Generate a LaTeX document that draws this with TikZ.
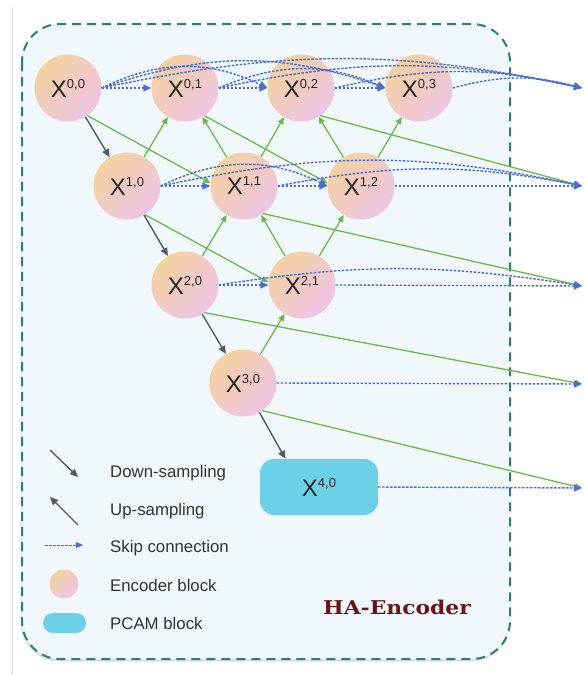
\documentclass[tikz,border=0pt]{standalone}
\usepackage{fontspec}
\usepackage{graphicx}
\setmainfont{Liberation Sans}
\newfontfamily\slabfont{DejaVu Serif}
\usetikzlibrary{arrows.meta,shadows,calc}
\definecolor{bgfill}{HTML}{F1F8FC}
\definecolor{framec}{HTML}{2B7D78}
\definecolor{peach}{HTML}{F4D1A0}
\definecolor{pinkc}{HTML}{EEC4E6}
\definecolor{skipblue}{HTML}{4A6ED0}
\definecolor{upgreen}{HTML}{6CBA45}
\definecolor{downgray}{HTML}{555A5F}
\definecolor{pcamc}{HTML}{6CD0E6}
\definecolor{titlered}{HTML}{6A1515}
\definecolor{txtc}{HTML}{333333}
\newcommand{\xlab}[2]{{\fontsize{24}{24}\selectfont X}\raisebox{9pt}{\fontsize{13}{13}\selectfont #1,#2}}
\begin{document}
\begin{tikzpicture}[x=1pt,y=1pt,
  enc/.style={circle, minimum size=67pt, inner sep=0pt, top color=peach, bottom color=pinkc, shading angle=45, draw=none, text=black!85},
  pcamblock/.style={rectangle, rounded corners=14pt, minimum width=118pt, minimum height=56pt, fill=pcamc, inner sep=0pt, text=black!85},
  skip/.style={draw=skipblue, line width=1.4pt, dash pattern=on 2.5pt off 1.5pt, -{Triangle[length=8pt,width=7pt]}},
  upl/.style={draw=upgreen, line width=1.3pt, -{Triangle[length=7pt,width=6pt]}},
  downl/.style={draw=downgray, line width=1.4pt, -{Triangle[length=8pt,width=7pt]}},
  legtext/.style={anchor=west, text=txtc, font=\fontsize{16.8}{17}\selectfont, inner sep=0pt}
]
\useasboundingbox (0,0) rectangle (584,-675);
\fill[white] (0,0) rectangle (584,-675);
\draw[black!12, line width=1pt] (12.5,-7) -- (12.5,-675);
% frame
\draw[fill=bgfill, draw=framec, line width=2pt, dash pattern=on 9pt off 6pt, rounded corners=38pt,
  drop shadow={shadow xshift=-1pt, shadow yshift=-2.5pt, opacity=0.25}] (22,-24) rectangle (510,-659);

% nodes
\node[enc] (X00) at (68,-88) {\xlab{0}{0}};
\node[enc] (X01) at (185,-88) {\xlab{0}{1}};
\node[enc] (X02) at (301,-88) {\xlab{0}{2}};
\node[enc] (X03) at (419,-88) {\xlab{0}{3}};
\node[enc] (X10) at (127,-186) {\xlab{1}{0}};
\node[enc] (X11) at (244,-186) {\xlab{1}{1}};
\node[enc] (X12) at (361,-186) {\xlab{1}{2}};
\node[enc] (X20) at (185,-285) {\xlab{2}{0}};
\node[enc] (X21) at (302,-285) {\xlab{2}{1}};
\node[enc] (X30) at (243,-383) {\xlab{3}{0}};
\node[pcamblock] (X40) at (319,-487) {\xlab{4}{0}};

\coordinate (o0) at (582,-88);
\coordinate (o1) at (582,-186);
\coordinate (o2) at (582,-286);
\coordinate (o3) at (582,-384);
\coordinate (o4) at (582,-488);

% down-sampling
\draw[downl] (X00) -- (X10);
\draw[downl] (X10) -- (X20);
\draw[downl] (X20) -- (X30);
\draw[downl] (X30) -- (X40.140);

% up-sampling
\draw[upl] (X10) -- (X01);
\draw[upl] (X11) -- (X01);
\draw[upl] (X11) -- (X02);
\draw[upl] (X12) -- (X02);
\draw[upl] (X12) -- (X03);
\draw[upl] (X20) -- (X11);
\draw[upl] (X21) -- (X11);
\draw[upl] (X21) -- (X12);
\draw[upl] (X30) -- (X21);

% long green connections
\draw[upl] (X00.-55) -- (X11.175);
\draw[upl] (X01.-55) -- (X12.175);
\draw[upl] (X10.-58) -- (X21.175);
\draw[upl] (X02.-55) -- (o1);
\draw[upl] (X11.-55) -- (o2);
\draw[upl] (X20.-55) -- (o3);
\draw[upl] (X30.-55) -- (o4);

% skip connections row 0
\draw[skip] (X00.east) -- (X01.west);
\draw[skip] (X01.east) -- (X02.west);
\draw[skip] (X02.east) -- (X03.west);
\draw[skip] (X00.east) to[out=26,in=154] (X02.west);
\draw[skip] (X00.east) to[out=19,in=161] (X03.west);
\draw[skip] (X01.east) to[out=23,in=157] (X03.west);
\draw[skip] (X00.east) to[out=12,in=168] (o0);
\draw[skip] (X01.east) to[out=12,in=168] (o0);
\draw[skip] (X02.east) to[out=13,in=167] (o0);
\draw[skip] (X03.east) to[out=15,in=165] (o0);
% row 1
\draw[skip] (X10.east) -- (X11.west);
\draw[skip] (X11.east) -- (X12.west);
\draw[skip] (X12.east) -- (o1);
\draw[skip] (X10.east) to[out=26,in=154] (X12.west);
\draw[skip] (X10.east) to[out=12,in=168] (o1);
\draw[skip] (X11.east) to[out=11,in=169] (o1);
% row 2
\draw[skip] (X20.east) -- (X21.west);
\draw[skip] (X21.east) -- (o2);
\draw[skip] (X20.east) to[out=9,in=171] (o2);
% rows 3,4
\draw[skip] (X30.east) -- (o3);
\draw[skip] (X40.east) -- (o4);

% legend
\coordinate (ld1) at (50,-450); \coordinate (ld2) at (78,-477);
\draw[downl] (ld1) -- (ld2);
\coordinate (lu1) at (78,-525); \coordinate (lu2) at (50,-497);
\draw[downl] (lu1) -- (lu2);
\coordinate (ls1) at (45,-545); \coordinate (ls2) at (83,-545);
\draw[skip, line width=1pt, -{Triangle[length=7pt,width=6pt]}] (ls1) -- (ls2);
\node[circle, minimum size=29pt, inner sep=0pt, top color=peach, bottom color=pinkc, shading angle=45] (lenc) at (64,-584) {};
\node[rectangle, rounded corners=10pt, minimum width=43pt, minimum height=20pt, fill=pcamc, inner sep=0pt] (lpcam) at (64.5,-623) {};
\node[legtext] (t1) at (110,-473) {Down-sampling};
\node[legtext] (t2) at (110,-511) {Up-sampling};
\node[legtext] (t3) at (110,-548) {Skip connection};
\node[legtext] (t4) at (110,-585) {Encoder block};
\node[legtext] (t5) at (110,-623) {PCAM block};

\node[text=titlered, inner sep=0pt] (title) at (397,-607) {\scalebox{1.15}[1]{\slabfont\bfseries\fontsize{19}{19}\selectfont HA-Encoder}};
\end{tikzpicture}
\end{document}
